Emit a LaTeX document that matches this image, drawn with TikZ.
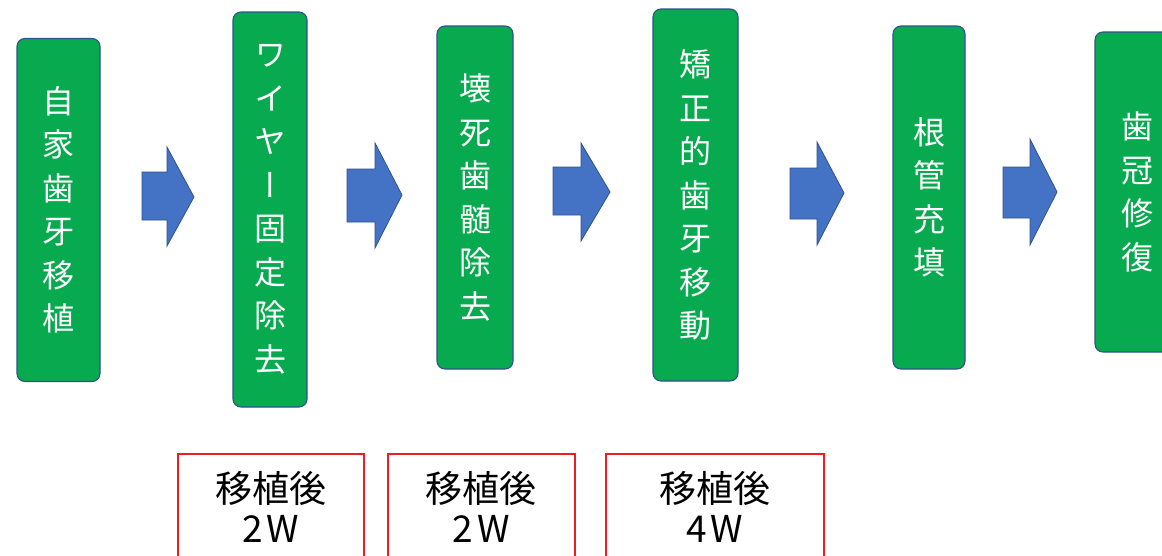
\documentclass[tikz,border=0pt]{standalone}
\usepackage{fontspec}
\newfontfamily\jp{Noto Sans CJK JP}
\newfontfamily\jpv[RawFeature=+vert]{Noto Sans CJK JP}
\definecolor{boxgreen}{RGB}{8,170,80}
\definecolor{boxedge}{RGB}{47,82,143}
\definecolor{arrowblue}{RGB}{68,114,196}
\definecolor{redline}{RGB}{235,30,40}
\tikzset{
  stepbox/.style={draw=boxedge, line width=1.1pt, fill=boxgreen, rounded corners=8pt,
    inner sep=0pt, text=white, align=center, font=\jpv\fontsize{32}{43.5}\selectfont},
  blockarrow/.style={draw=boxedge, line width=0.8pt, fill=arrowblue, line join=miter},
  redbox/.style={draw=redline, line width=1.6pt, fill=white, inner sep=0pt},
  redtxt/.style={font=\jp\fontsize{37}{40}\selectfont, text=black, inner sep=0pt, anchor=base}
}
\begin{document}
\begin{tikzpicture}[x=1pt, y=-1pt]
\useasboundingbox (0,0) rectangle (1162,555);
\clip (0,0) rectangle (1162,555);
\fill[white] (0,0) rectangle (1162,555);

% green step boxes
\node[stepbox, minimum width=83pt, minimum height=343pt] (g1) at (58.5,210)
  {自\\家\\歯\\牙\\移\\植};
\node[stepbox, minimum width=74pt, minimum height=395pt] (g2) at (270,209.5)
  {ワ\\イ\\ヤ\\ー\\固\\定\\除\\去};
\node[stepbox, minimum width=76pt, minimum height=343pt] (g3) at (475,197.5)
  {壊\\死\\歯\\髄\\除\\去};
\node[stepbox, minimum width=85pt, minimum height=372pt] (g4) at (695.5,195)
  {矯\\正\\的\\歯\\牙\\移\\動};
\node[stepbox, minimum width=72pt, minimum height=343pt] (g5) at (929,197.5)
  {根\\管\\充\\填};
\node[stepbox, minimum width=84pt, minimum height=320pt] (g6) at (1137,192)
  {歯\\冠\\修\\復};

% block arrows
\draw[blockarrow] (142,172) -- (167,172) -- (167,147) -- (194,197) -- (167,246) -- (167,220) -- (142,220) -- cycle;
\draw[blockarrow] (347,169) -- (375,169) -- (375,143) -- (402,195) -- (375,248) -- (375,222) -- (347,222) -- cycle;
\draw[blockarrow] (553,167) -- (581,167) -- (581,143) -- (610,192) -- (581,241) -- (581,215) -- (553,215) -- cycle;
\draw[blockarrow] (790,168) -- (817,168) -- (817,142) -- (844,193) -- (817,245) -- (817,219) -- (790,219) -- cycle;
\draw[blockarrow] (1003,167) -- (1030,167) -- (1030,139) -- (1057,192) -- (1030,245) -- (1030,218) -- (1003,218) -- cycle;

% red note boxes
\node[redbox, anchor=north west, minimum width=186pt, minimum height=130pt] (r1) at (177,453) {};
\node[redbox, anchor=north west, minimum width=187pt, minimum height=130pt] (r2) at (387,453) {};
\node[redbox, anchor=north west, minimum width=218pt, minimum height=130pt] (r3) at (605,453) {};

\node[redtxt] (r1a) at ([yshift=-49pt]r1.north) {移植後};
\node[redtxt] (r1b) at ([yshift=-89pt]r1.north) {2\kern4pt W};
\node[redtxt] (r2a) at ([yshift=-49pt]r2.north) {移植後};
\node[redtxt] (r2b) at ([yshift=-89pt]r2.north) {2\kern4pt W};
\node[redtxt] (r3a) at ([yshift=-49pt]r3.north) {移植後};
\node[redtxt] (r3b) at ([yshift=-89pt]r3.north) {4\kern4pt W};
\end{tikzpicture}
\end{document}
